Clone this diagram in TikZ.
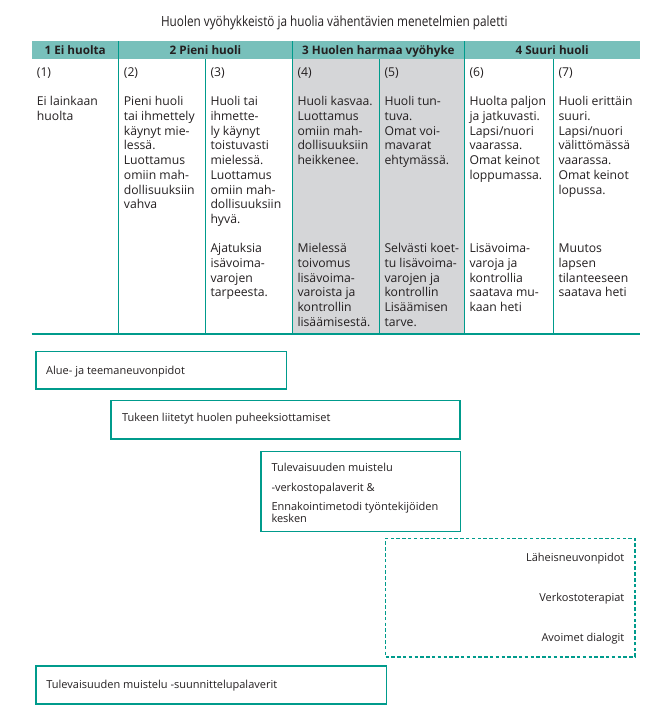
\documentclass[tikz,border=0pt]{standalone}
\usepackage{fontspec}
\setmainfont{Open Sans}
\newfontfamily\titlefont[FakeStretch=0.84]{Open Sans}
\definecolor{tealline}{RGB}{0,155,140}
\definecolor{tealfill}{RGB}{120,192,187}
\definecolor{grayfill}{RGB}{213,214,216}
\definecolor{ink}{RGB}{35,31,32}
\begin{document}
\begin{tikzpicture}[x=1pt,y=-1pt,
  cell/.style={anchor=north west, inner sep=0pt, align=left, text=ink,
    font=\fontsize{12.2}{14.7}\selectfont},
  head/.style={anchor=base, inner sep=0pt, text=ink,
    font=\bfseries\fontsize{11.7}{14}\selectfont},
  tline/.style={draw=tealline, line width=1.1pt},
  box/.style={draw=tealline, line width=1.2pt, inner sep=0pt, anchor=north west},
  dbox/.style={draw=tealline, line width=1.6pt, dash pattern=on 3.5pt off 2.3pt, inner sep=0pt, anchor=north west},
  btext/.style={inner sep=0pt, text=ink, font=\fontsize{11}{12}\selectfont},
]
\useasboundingbox (0,0) rectangle (659,705);

% title
\node[anchor=base, inner sep=0pt, text=ink, font=\titlefont\fontsize{14}{16}\selectfont] (title) at (334.3,26.5)
  {Huolen vyöhykkeistö ja huolia vähentävien menetelmien paletti};

% fills
\fill[tealfill] (31.7,41) rectangle (640,59.3);
\fill[grayfill] (292.3,59.3) rectangle (464.3,334);

% table lines
\draw[tline] (118.7,41) -- (118.7,334);
\draw[tline] (292.3,41) -- (292.3,334);
\draw[tline] (464.3,41) -- (464.3,334);
\draw[tline] (205.3,59.3) -- (205.3,334);
\draw[tline] (379.3,59.3) -- (379.3,334);
\draw[tline] (553.3,59.3) -- (553.3,334);
\draw[tline] (31.7,334) -- (640,334);

% header labels
\node[head] (h1) at (75.2,54.2) {1 Ei huolta};
\node[head] (h2) at (205.5,54.2) {2 Pieni huoli};
\node[head] (h3) at (378.3,54.2) {3 Huolen harmaa vyöhyke};
\node[head] (h4) at (552.2,54.2) {4 Suuri huoli};

% cells
\node[cell] (c1) at (36.7,66.2) {\rule{0pt}{10pt}(1)\\[14.7pt]Ei lainkaan\\huolta};
\node[cell] (c2) at (123.7,66.2) {\rule{0pt}{10pt}(2)\\[14.7pt]Pieni huoli\\tai ihmettely\\käynyt mie-\\lessä.\\Luottamus\\omiin mah-\\dollisuuksiin\\vahva};
\node[cell] (c3) at (210.3,66.2) {\rule{0pt}{10pt}(3)\\[14.7pt]Huoli tai\\ihmette-\\ly käynyt\\toistuvasti\\mielessä.\\Luottamus\\omiin mah-\\dollisuuksiin\\hyvä.\\[14.7pt]Ajatuksia\\isävoima-\\varojen\\tarpeesta.};
\node[cell] (c4) at (297.3,66.2) {\rule{0pt}{10pt}(4)\\[14.7pt]Huoli kasvaa.\\Luottamus\\omiin mah-\\dollisuuksiin\\heikkenee.\\[73.5pt]Mielessä\\toivomus\\lisävoima-\\varoista ja\\kontrollin\\lisäämisestä.};
\node[cell] (c5) at (384.3,66.2) {\rule{0pt}{10pt}(5)\\[14.7pt]Huoli tun-\\tuva.\\Omat voi-\\mavarat\\ehtymässä.\\[73.5pt]Selvästi koet-\\tu lisävoima-\\varojen ja\\kontrollin\\Lisäämisen\\tarve.};
\node[cell] (c6) at (469.3,66.2) {\rule{0pt}{10pt}(6)\\[14.7pt]Huolta paljon\\ja jatkuvasti.\\Lapsi/nuori\\vaarassa.\\Omat keinot\\loppumassa.\\[58.8pt]Lisävoima-\\varoja ja\\kontrollia\\saatava mu-\\kaan heti};
\node[cell] (c7) at (558.3,66.2) {\rule{0pt}{10pt}(7)\\[14.7pt]Huoli erittäin\\suuri.\\Lapsi/nuori\\välittömässä\\vaarassa.\\Omat keinot\\lopussa.\\[44.1pt]Muutos\\lapsen\\tilanteeseen\\saatava heti};

% boxes
\node[box, minimum width=250.4pt, minimum height=37.6pt] (b1) at (35.3,350.7) {};
\node[btext, anchor=base west] (t1) at (46,374) {Alue- ja teemaneuvonpidot};

\node[box, minimum width=349pt, minimum height=38.3pt] (b2) at (110.3,400) {};
\node[btext, anchor=base west] (t2) at (122,421.3) {Tukeen liitetyt huolen puheeksiottamiset};

\node[box, minimum width=199.4pt, minimum height=80.3pt] (b3) at (260.3,450.7) {};
\node[btext, anchor=base west] (t3a) at (271.3,471.3) {Tulevaisuuden muistelu};
\node[btext, anchor=base west] (t3b) at (271.3,491.3) {-verkostopalaverit \&};
\node[btext, anchor=base west] (t3c) at (271.3,510.8) {Ennakointimetodi työntekijöiden};
\node[btext, anchor=base west] (t3d) at (271.3,522.8) {kesken};

\node[dbox, minimum width=249.5pt, minimum height=118.5pt] (b4) at (384.7,537.5) {};
\node[btext, anchor=base east] (t4a) at (624.5,561.3) {Läheisneuvonpidot};
\node[btext, anchor=base east] (t4b) at (624.5,601.3) {Verkostoterapiat};
\node[btext, anchor=base east] (t4c) at (624.5,641.3) {Avoimet dialogit};

\node[box, minimum width=350.7pt, minimum height=38pt] (b5) at (35.3,665.3) {};
\node[btext, anchor=base west] (t5) at (46.2,688.3) {Tulevaisuuden muistelu -suunnittelupalaverit};
\end{tikzpicture}
\end{document}
